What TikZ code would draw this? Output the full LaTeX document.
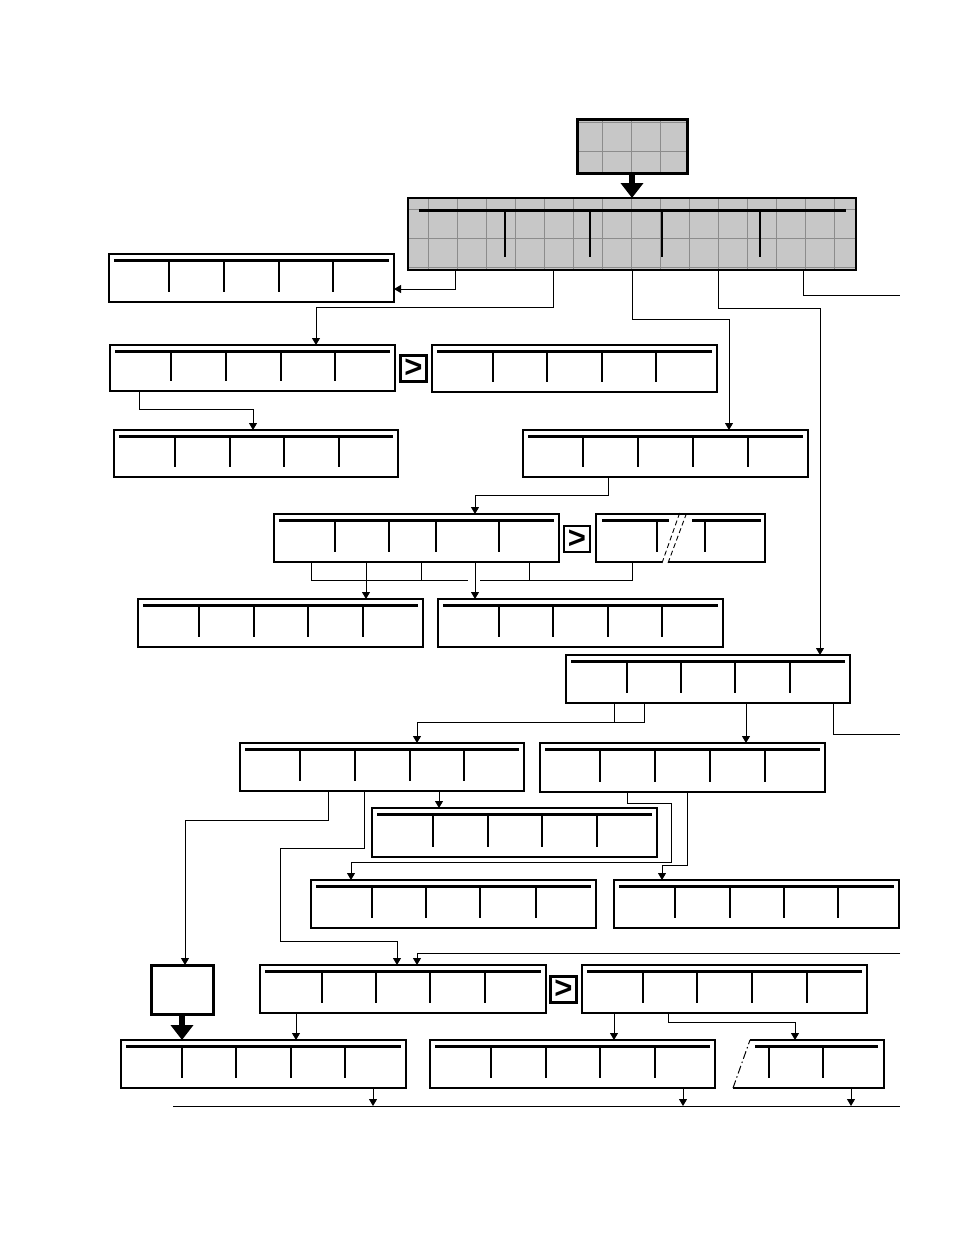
\documentclass[tikz,border=0pt]{standalone}
\usepackage{fontspec}
\setsansfont{Liberation Sans}
\usetikzlibrary{arrows.meta,calc}
\tikzset{
  box/.style={draw,line width=1.2pt,anchor=north west,inner sep=0pt,outer sep=0pt},
  ghost/.style={anchor=north west,inner sep=0pt,outer sep=0pt},
  barline/.style={line width=3pt},
  tickline/.style={line width=2.6pt},
  conn/.style={line width=0.9pt},
  arr/.style={conn,-{Triangle[width=8pt,length=7pt]}},
  bigarr/.style={line width=6pt,-{Triangle[width=22pt,length=15pt]}},
  gtbox/.style={draw,line width=2.6pt,minimum size=26pt,inner sep=0pt,font=\sffamily\bfseries\fontsize{31}{31}\selectfont},
  shadefill/.style={fill=black!22},
  gridl/.style={black!45,line width=0.8pt},
}
% name, x1, y1, x2, y2, ticks, extra style
\newcommand\mkbox[7]{%
  \node[box,#7,minimum width={(#4)-(#2)},minimum height={(#5)-(#3)}] (#1) at (#2,#3) {};
  \draw[barline] ($(#1.north west)+(5,6)$) -- ($(#1.north east)+(-5,6)$);
  \foreach \t in {#6} \draw[tickline] ($(#1.north -| \t,0)+(0,6)$) -- ($(#1.south -| \t,0)+(0,-10)$);
}
\begin{document}
\begin{tikzpicture}[x=1pt,y=-1pt]
\useasboundingbox[fill=white] (0,0) rectangle (954,1235);

% top shaded boxes
\node[box,shadefill,line width=3pt,minimum width=110pt,minimum height=54pt] (T0) at (577,119) {};
\node[box,shadefill,line width=1.5pt,minimum width=448pt,minimum height=72pt] (T1) at (408,198) {};
\begin{scope}
  \clip (T0.south west) rectangle (T0.north east) (T1.south west) rectangle (T1.north east);
  \foreach \x in {399,428,...,860} \draw[gridl] (\x,100) -- (\x,280);
  \foreach \y in {122,151,...,270} \draw[gridl] (390,\y) -- (870,\y);
\end{scope}
\draw[line width=3pt] (T0.south west) rectangle (T0.north east);
\draw[line width=1.5pt] (T1.south west) rectangle (T1.north east);
\draw[barline] ($(T1.north west)+(11,12)$) -- ($(T1.north east)+(-10,12)$);
\foreach \t in {505,590,662,760} \draw[tickline] ($(T1.north -| \t,0)+(0,12)$) -- ($(T1.south -| \t,0)+(0,-13)$);
\draw[bigarr] (T0.south) -- (T1.north);

% boxes
\mkbox{A}{109}{254}{394}{302}{169,224,279,333}{line width=1.7pt}
\mkbox{B}{110}{345}{395}{391}{171,226,281,335}{}
\mkbox{C}{432}{345}{717}{392}{493,547,602,656}{}
\mkbox{D}{114}{430}{398}{477}{175,230,284,339}{}
\mkbox{E}{523}{430}{808}{477}{583,638,693,748}{}
\mkbox{F}{274}{514}{559}{562}{335,389,436,499}{}
\mkbox{H}{138}{599}{423}{647}{199,254,308,363}{}
\mkbox{I}{438}{599}{723}{647}{499,553,608,662}{}
\mkbox{J}{566}{655}{850}{703}{627,681,735,790}{}
\mkbox{K}{240}{743}{524}{791}{300,355,410,464}{}
\mkbox{L}{540}{743}{825}{792}{600,655,710,765}{}
\mkbox{M}{372}{808}{657}{857}{433,488,542,597}{}
\mkbox{N}{311}{880}{596}{928}{372,426,480,536}{}
\mkbox{O}{614}{880}{899}{928}{675,730,784,838}{}
\mkbox{Q}{260}{965}{546}{1013}{322,376,430,485}{}
\mkbox{R}{582}{965}{867}{1013}{643,697,752,807}{}
\mkbox{S}{121}{1040}{406}{1088}{182,236,291,345}{}
\mkbox{U}{430}{1040}{715}{1088}{491,546,600,655}{}

% broken box G
\node[ghost,minimum width=169pt,minimum height=48pt] (G) at (596,514) {};
\draw[line width=1.2pt] ($(G.south west)+(66,0)$) -| (G.north west) -| (G.south east) -- ($(G.south west)+(72,0)$);
\draw[barline] ($(G.north west)+(6,6)$) -- ($(G.north west)+(73,6)$);
\draw[barline] ($(G.north west)+(96,6)$) -- ($(G.north east)+(-4,6)$);
\foreach \t in {657,705} \draw[tickline] ($(G.north -| \t,0)+(0,6)$) -- ($(G.south -| \t,0)+(0,-10)$);
\draw[line width=0.9pt,dash pattern=on 5pt off 3pt] ($(G.south west)+(66,1)$) -- ($(G.north west)+(84,-2)$);
\draw[line width=0.9pt,dash pattern=on 5pt off 3pt] ($(G.south west)+(72,1)$) -- ($(G.north west)+(91,-2)$);

% broken box V
\node[ghost,minimum width=151pt,minimum height=48pt] (V) at (733,1040) {};
\draw[line width=1.2pt] ($(V.north west)+(17,0)$) -- (V.north east) -- (V.south east) -- (V.south west);
\draw[line width=1pt,dash pattern=on 8pt off 3pt on 1.5pt off 3pt] (V.south west) -- ($(V.north west)+(17,0)$);
\draw[barline] ($(V.north west)+(22,6)$) -- ($(V.north east)+(-6,6)$);
\foreach \t in {769,823} \draw[tickline] ($(V.north -| \t,0)+(0,6)$) -- ($(V.south -| \t,0)+(0,-10)$);

% small thick box P
\node[box,line width=3pt,minimum width=62pt,minimum height=49pt] (P) at (151,965) {};
\draw[bigarr] (P.south) -- (S.north -| P.south);

% > boxes
\node[gtbox] (g1) at (413.5,368.5) {>};
\node[gtbox] (g2) at (577,539) {>};
\node[gtbox] (g3) at (563.5,989.5) {>};

% free ends
\coordinate (e1) at (900,295);
\coordinate (e2) at (900,734);
\coordinate (e3) at (900,953);
\coordinate (bl) at (173,1106);
\coordinate (br) at (900,1106);

% connectors
\draw[arr] (T1.south -| 455,0) |- (A.east |- 0,289);
\draw[arr] (T1.south -| 553,0) -- ++(0,37) -| (B.north -| 316,0);
\draw[arr] (T1.south -| 632,0) -- ++(0,49) -| (E.north -| 729,0);
\draw[arr] (T1.south -| 718,0) -- ++(0,38) -| (J.north -| 820,0);
\draw[conn] (T1.south -| 803,0) |- (e1);

\draw[arr] (B.south -| 139,0) -- ++(0,18) -| (D.north -| 253,0);
\draw[arr] (E.south -| 608,0) -- ++(0,18) -| (F.north -| 475,0);

\draw[arr] (F.south -| 366,0) -- (H.north -| 366,0);
\draw[arr] (F.south -| 475,0) -- (I.north -| 475,0);
\draw[conn] (F.south -| 311,0) |- (468,580);
\draw[conn] (480,580) -| (G.south -| 632,0);
\draw[conn] (F.south -| 421,0) -- ++(0,18);
\draw[conn] (F.south -| 529,0) -- ++(0,18);

\draw[conn] (J.south -| 614,0) -- ++(0,19);
\draw[arr] (J.south -| 644,0) -- ++(0,19) -| (K.north -| 417,0);
\draw[arr] (J.south -| 746,0) -- (L.north -| 746,0);
\draw[conn] (J.south -| 833,0) |- (e2);

\draw[arr] (K.south -| 328,0) -- ++(0,29) -| (P.north -| 185,0);
\draw[arr] (K.south -| 364,0) -- ++(0,57) -| ++(-84,93) -| (Q.north -| 397,0);
\draw[arr] (K.south -| 439,0) -- (M.north -| 439,0);
\draw[arr] (L.south -| 627,0) -- ++(0,11) -| ++(44,59) -| (N.north -| 351,0);
\draw[arr] (L.south -| 687,0) -- ++(0,73) -| (O.north -| 662,0);
\draw[arr] (e3) -| (Q.north -| 417,0);

\draw[arr] (Q.south -| 296,0) -- (S.north -| 296,0);
\draw[arr] (R.south -| 614,0) -- (U.north -| 614,0);
\draw[arr] (R.south -| 668,0) -- ++(0,9) -| (V.north -| 795,0);

\draw[conn] (bl) -- (br);
\draw[arr] (S.south -| 373,0) -- (bl -| 373,0);
\draw[arr] (U.south -| 683,0) -- (bl -| 683,0);
\draw[arr] (V.south -| 851,0) -- (bl -| 851,0);
\end{tikzpicture}
\end{document}
